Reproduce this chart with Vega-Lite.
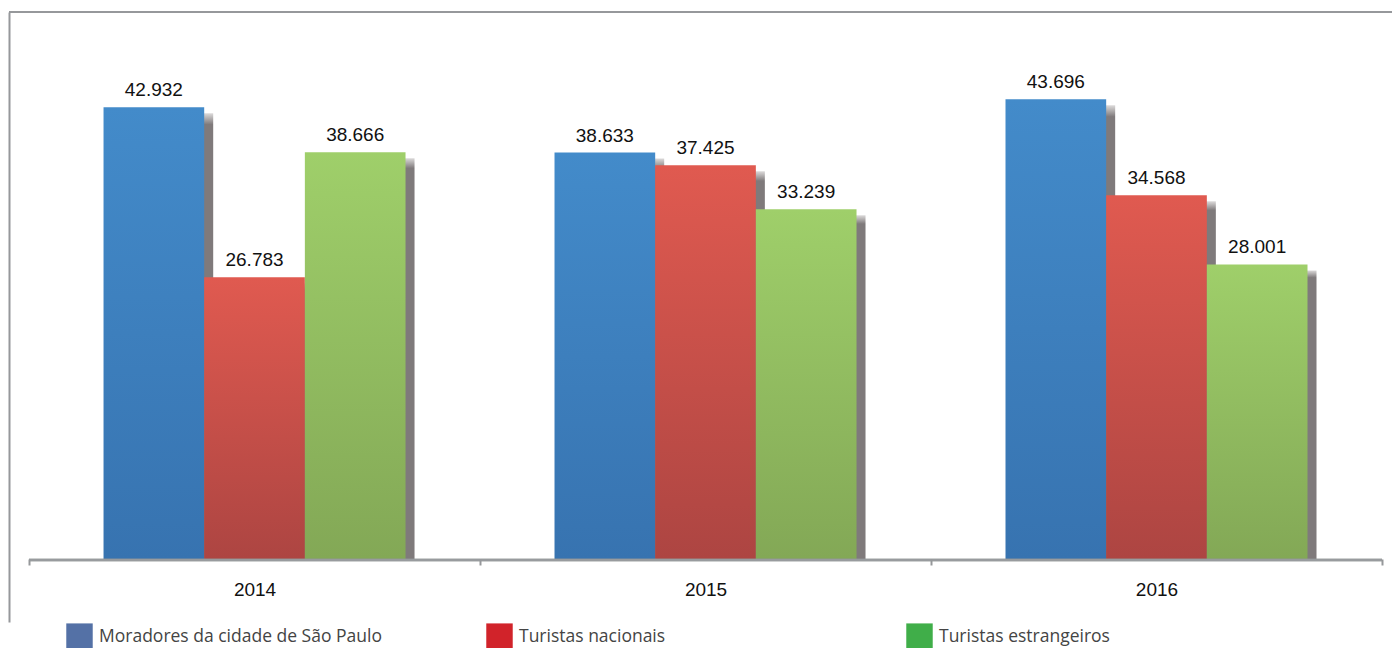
{
  "$schema": "https://vega.github.io/schema/vega-lite/v6.json",
  "width": 1383,
  "height": 610,
  "autosize": {"type": "none"},
  "padding": {"left": 9, "top": 12, "right": 0, "bottom": 26},
  "background": "white",
  "config": {
    "view": {"stroke": null},
    "locale": {"number": {"decimal": ",", "thousands": ".", "grouping": [3], "currency": ["R$", ""]}}
  },
  "data": {
    "values": [
      {"year": "2014", "series": "Moradores da cidade de São Paulo", "value": 42932},
      {"year": "2014", "series": "Turistas nacionais", "value": 26783},
      {"year": "2014", "series": "Turistas estrangeiros", "value": 38666},
      {"year": "2015", "series": "Moradores da cidade de São Paulo", "value": 38633},
      {"year": "2015", "series": "Turistas nacionais", "value": 37425},
      {"year": "2015", "series": "Turistas estrangeiros", "value": 33239},
      {"year": "2016", "series": "Moradores da cidade de São Paulo", "value": 43696},
      {"year": "2016", "series": "Turistas nacionais", "value": 34568},
      {"year": "2016", "series": "Turistas estrangeiros", "value": 28001}
    ]
  },
  "encoding": {
    "x": {
      "field": "year", "type": "nominal",
      "scale": {"paddingInner": 0, "paddingOuter": 0.0333, "align": 0.667},
      "axis": {
        "title": null, "domain": false, "offset": -63, "tickBand": "extent",
        "tickSize": 6, "tickWidth": 2, "tickColor": "#96989b",
        "labelAngle": 0, "labelFont": "Liberation Sans", "labelFontSize": 19,
        "labelColor": "#111", "labelPadding": 15, "grid": false
      }
    },
    "y": {
      "field": "value", "type": "quantitative",
      "scale": {"domain": [-6000, 52000], "nice": false, "zero": false},
      "axis": {"title": null, "labels": false, "ticks": false, "grid": false, "domain": true, "domainColor": "#96989b", "domainWidth": 2}
    },
    "xOffset": {
      "field": "series", "type": "nominal",
      "scale": {"type": "band", "domain": ["Moradores da cidade de São Paulo", "Turistas nacionais", "Turistas estrangeiros"], "paddingInner": 0, "paddingOuter": 0.74}
    }
  },
  "resolve": {"scale": {"xOffset": "independent"}},
  "layer": [
    {
      "mark": {"type": "rule", "color": "#96989b", "strokeWidth": 2},
      "encoding": {"y": {"datum": 52000, "type": "quantitative"}, "x": null, "xOffset": null}
    },
    {
      "mark": {"type": "bar", "yOffset": 6, "color": {"gradient": "linear", "x1": 0, "y1": 0, "x2": 0, "y2": 1, "stops": [{"offset": 0, "color": "#dcdada"}, {"offset": 0.025, "color": "#7f7a7b"}, {"offset": 1, "color": "#7f7a7b"}]}},
      "encoding": {
        "y2": {"datum": 0},
        "xOffset": {
          "field": "series", "type": "nominal",
          "scale": {"type": "band", "domain": ["Moradores da cidade de São Paulo", "Turistas nacionais", "Turistas estrangeiros"], "paddingInner": 0, "paddingOuter": 0.74, "range": [9, 460]}
        }
      }
    },
    {
      "mark": {"type": "bar", "opacity": 0},
      "encoding": {
        "y2": {"datum": 0},
        "color": {
          "field": "series", "type": "nominal",
          "scale": {"domain": ["Moradores da cidade de São Paulo", "Turistas nacionais", "Turistas estrangeiros"], "range": ["#5471a6", "#d1232a", "#40ae49"]},
          "legend": {
            "title": null, "orient": "none", "legendX": 57, "legendY": 611,
            "direction": "horizontal", "columns": 3, "gridAlign": "all", "columnPadding": 104,
            "padding": 0, "symbolType": "square", "symbolSize": 700, "symbolOpacity": 1, "symbolStrokeWidth": 0,
            "labelOffset": 6, "labelFont": "Open Sans", "labelFontSize": 17.5, "labelColor": "#444", "labelLimit": 400
          }
        }
      }
    },
    {
      "transform": [{"filter": "datum.series === 'Moradores da cidade de São Paulo'"}],
      "mark": {"type": "bar", "color": {"gradient": "linear", "x1": 0, "y1": 0, "x2": 0, "y2": 1, "stops": [{"offset": 0, "color": "#438bca"}, {"offset": 1, "color": "#3773b0"}]}},
      "encoding": {"y2": {"datum": 0}}
    },
    {
      "transform": [{"filter": "datum.series === 'Turistas nacionais'"}],
      "mark": {"type": "bar", "color": {"gradient": "linear", "x1": 0, "y1": 0, "x2": 0, "y2": 1, "stops": [{"offset": 0, "color": "#e05a50"}, {"offset": 1, "color": "#ad4542"}]}},
      "encoding": {"y2": {"datum": 0}}
    },
    {
      "transform": [{"filter": "datum.series === 'Turistas estrangeiros'"}],
      "mark": {"type": "bar", "color": {"gradient": "linear", "x1": 0, "y1": 0, "x2": 0, "y2": 1, "stops": [{"offset": 0, "color": "#9fcf6a"}, {"offset": 1, "color": "#83a856"}]}},
      "encoding": {"y2": {"datum": 0}}
    },
    {
      "mark": {"type": "text", "baseline": "alphabetic", "dy": -11, "font": "Liberation Sans", "fontSize": 19, "color": "#111"},
      "encoding": {"text": {"field": "value", "type": "quantitative", "format": ",d"}}
    },
    {
      "mark": {"type": "tick", "color": "#96989b", "size": 451, "thickness": 2.5, "yOffset": 1},
      "encoding": {"y": {"datum": 0, "type": "quantitative"}, "xOffset": null}
    }
  ]
}
